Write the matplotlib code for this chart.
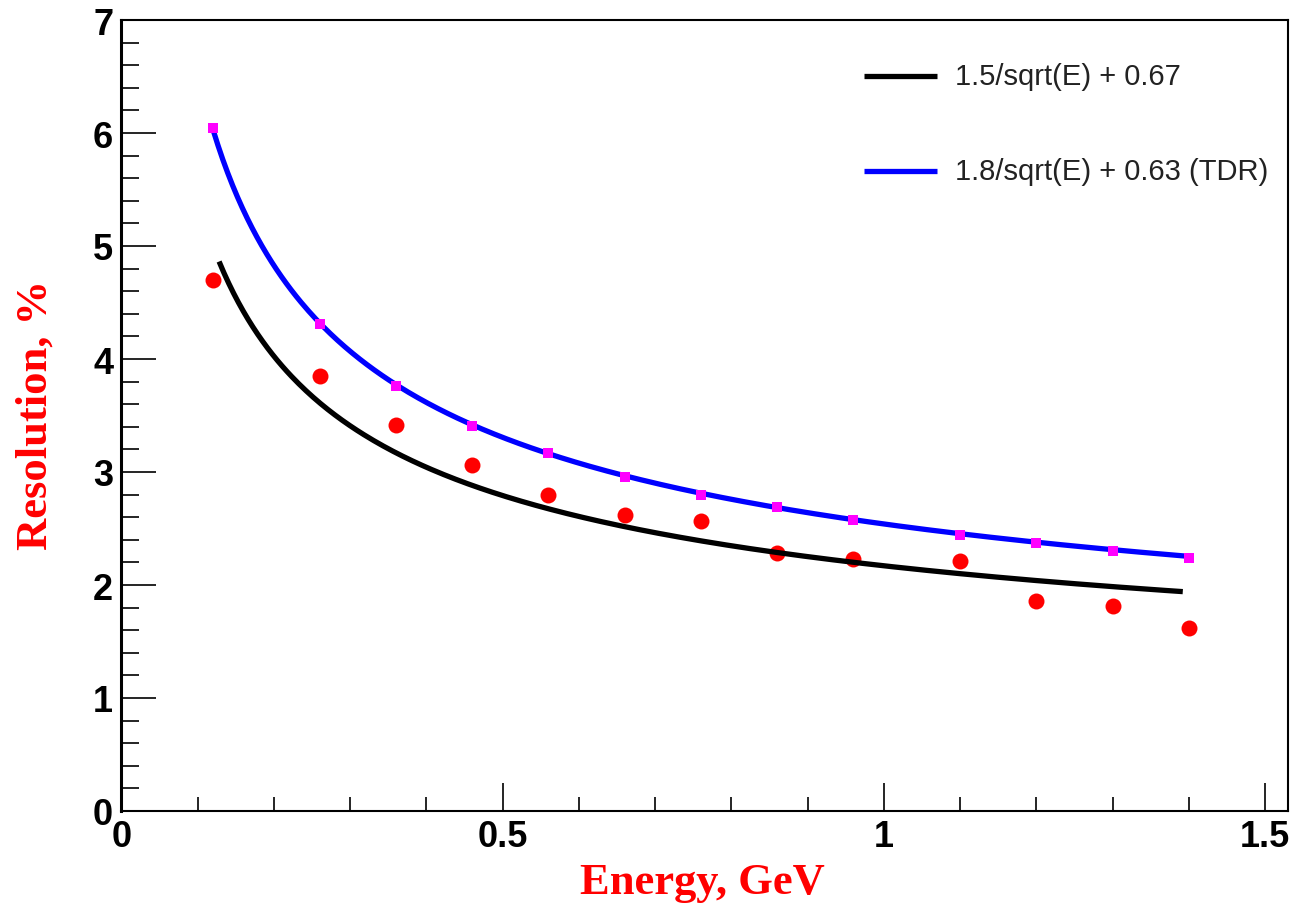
import numpy as np
import matplotlib
matplotlib.use("Agg")
import matplotlib.pyplot as plt
from matplotlib.ticker import MultipleLocator

# ---- data ----
energy = [0.12, 0.26, 0.36, 0.46, 0.56, 0.66, 0.76, 0.86, 0.96, 1.10, 1.20, 1.30, 1.40]
resolution = [4.70, 3.85, 3.42, 3.06, 2.80, 2.62, 2.57, 2.28, 2.23, 2.21, 1.86, 1.81, 1.62]
tdr_points = [6.04, 4.31, 3.76, 3.41, 3.17, 2.96, 2.80, 2.69, 2.575, 2.44, 2.37, 2.30, 2.24]

# fitted curve parameters (a/sqrt(E) + b)
fit_a, fit_b = 1.5, 0.67
fit_range = (0.128, 1.392)
tdr_a, tdr_b = 1.85, 0.69          # curve as drawn through the TDR points
tdr_range = (0.12, 1.40)

legend_labels = ["1.5/sqrt(E) + 0.67", "1.8/sqrt(E) + 0.63 (TDR)"]
xlabel = "Energy, GeV"
ylabel = "Resolution, %"

W, H = 1294, 904
fig = plt.figure(figsize=(W / 100, H / 100), dpi=100)
ax = fig.add_axes([121.5 / W, (H - 812) / H, (1288 - 121.5) / W, 791 / H])

# data points
ax.plot(energy, resolution, linestyle="none", marker="o", markersize=11.5,
        color="#ff0000", markeredgewidth=0, zorder=2)

# fit curve
ef = np.linspace(fit_range[0], fit_range[1], 400)
ax.plot(ef, fit_a / np.sqrt(ef) + fit_b, color="black", lw=3.8, zorder=3,
        solid_capstyle="butt")

# TDR curve
et = np.linspace(tdr_range[0], tdr_range[1], 400)
ax.plot(et, tdr_a / np.sqrt(et) + tdr_b, color="#0000ff", lw=3.8, zorder=3,
        solid_capstyle="butt")
ax.plot(energy, tdr_points, linestyle="none", marker="s", markersize=6.5,
        color="#ff00ff", markeredgewidth=0, zorder=4)

ax.set_xlim(0, 1.530)
ax.set_ylim(0, 7)

ax.xaxis.set_major_locator(MultipleLocator(0.5))
ax.xaxis.set_minor_locator(MultipleLocator(0.1))
ax.yaxis.set_major_locator(MultipleLocator(1))
ax.yaxis.set_minor_locator(MultipleLocator(0.2))
ax.xaxis.set_major_formatter(plt.FuncFormatter(lambda v, p: ("%g" % v)))

ax.tick_params(axis="x", which="major", direction="in", length=20, width=1.2,
               pad=6, top=False)
ax.tick_params(axis="x", which="minor", direction="in", length=10, width=1.2, top=False)
ax.tick_params(axis="y", which="major", direction="in", length=25, width=1.2,
               pad=6, right=False)
ax.tick_params(axis="y", which="minor", direction="in", length=13, width=1.2, right=False)

for lab in ax.get_xticklabels() + ax.get_yticklabels():
    lab.set_fontfamily("Liberation Sans")
    lab.set_fontweight("bold")
    lab.set_fontsize(26)

ax.spines["left"].set_linewidth(2.2)
ax.spines["bottom"].set_linewidth(1.5)
ax.spines["top"].set_linewidth(1.5)
ax.spines["right"].set_linewidth(1.5)

# legend (no frame), drawn in axes coordinates
leg_x0, leg_x1, leg_tx = 0.6365, 0.699, 0.7145
for yy, col, lab in [(0.929, "black", legend_labels[0]),
                     (0.809, "#0000ff", legend_labels[1])]:
    ax.plot([leg_x0, leg_x1], [yy, yy], transform=ax.transAxes, color=col,
            lw=3.8, solid_capstyle="butt", clip_on=False)
    ax.text(leg_tx, yy, lab, transform=ax.transAxes, ha="left", va="center",
            fontsize=21, fontfamily="Liberation Sans", color="#222222")

# axis titles
fig.text(702 / W, 1 - 894 / H, xlabel, ha="center", va="baseline",
         fontsize=32, fontweight="bold", fontfamily="Liberation Serif", color="#ff0000")
fig.text(36 / W, 1 - 415 / H, ylabel, ha="center", va="center", rotation=90,
         fontsize=32, fontweight="bold", fontfamily="Liberation Serif", color="#ff0000")

fig.savefig("out.png", dpi=100, facecolor="white")
